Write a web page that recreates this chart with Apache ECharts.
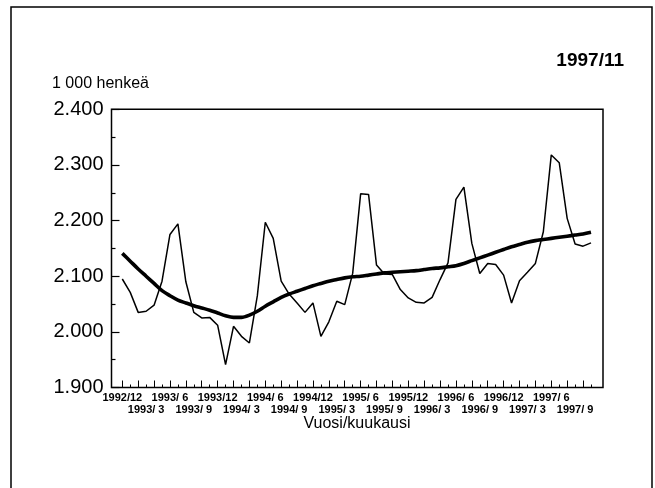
<!DOCTYPE html>
<html>
<head>
<meta charset="utf-8">
<title>Työlliset 1992/12 - 1997/11</title>
<script src="https://cdn.jsdelivr.net/npm/echarts@6/dist/echarts.min.js"></script>
<style>
  html, body { margin: 0; padding: 0; background: #fff; }
  #main { width: 655px; height: 488px; }
</style>
</head>
<body>
<div id="main"></div>
<script>
// kuukaudet 1992/12 - 1997/11
var kuukaudet = [
  '1992/12',
  '1993/ 1', '1993/ 2', '1993/ 3', '1993/ 4', '1993/ 5', '1993/ 6', '1993/ 7', '1993/ 8', '1993/ 9', '1993/10', '1993/11', '1993/12',
  '1994/ 1', '1994/ 2', '1994/ 3', '1994/ 4', '1994/ 5', '1994/ 6', '1994/ 7', '1994/ 8', '1994/ 9', '1994/10', '1994/11', '1994/12',
  '1995/ 1', '1995/ 2', '1995/ 3', '1995/ 4', '1995/ 5', '1995/ 6', '1995/ 7', '1995/ 8', '1995/ 9', '1995/10', '1995/11', '1995/12',
  '1996/ 1', '1996/ 2', '1996/ 3', '1996/ 4', '1996/ 5', '1996/ 6', '1996/ 7', '1996/ 8', '1996/ 9', '1996/10', '1996/11', '1996/12',
  '1997/ 1', '1997/ 2', '1997/ 3', '1997/ 4', '1997/ 5', '1997/ 6', '1997/ 7', '1997/ 8', '1997/ 9', '1997/10', '1997/11'
];

// 1 000 henkeä, alkuperäinen sarja
var alkuperainen = [
  2095,
  2071, 2035, 2037, 2048, 2091, 2175, 2194, 2090, 2035, 2025, 2026, 2012,
  1941, 2010, 1992, 1980, 2065, 2197, 2168, 2091, 2068, 2052, 2035, 2052,
  1992, 2018, 2055, 2049, 2105, 2248, 2247, 2120, 2104, 2103, 2076, 2061,
  2053, 2052, 2062, 2094, 2124, 2238, 2260, 2159, 2105, 2123, 2121, 2102,
  2052, 2092, 2107, 2123, 2180, 2318, 2304, 2204, 2158, 2154, 2160
];

// trendi
var trendi = [
  2141,
  2127, 2113, 2100, 2087, 2074, 2065, 2057, 2052, 2047, 2043, 2039, 2034,
  2029, 2026, 2026, 2030, 2037, 2046, 2054, 2062, 2068, 2073, 2078, 2083,
  2087, 2091, 2094, 2097, 2099, 2100, 2102, 2104, 2106, 2107, 2108, 2109,
  2110, 2112, 2114, 2115, 2117, 2119, 2123, 2128, 2133, 2138, 2143, 2148,
  2153, 2157, 2161, 2164, 2166, 2168, 2170, 2172, 2174, 2176, 2179
];

var yMin = 1900, yMax = 2400, yStep = 100;

var fontti = '"Liberation Sans", Arial, Helvetica, sans-serif';
var myChart = echarts.init(document.getElementById('main'));

// yhteinen x-akselin pohja, rivit ja väliviivat eri akseleilla
function xAkseli(tick, label) {
  return {
    type: 'category',
    data: kuukaudet,
    position: 'bottom',
    boundaryGap: false,
    axisLine: { show: false },
    axisTick: tick,
    axisLabel: label,
    splitLine: { show: false }
  };
}
var labelTyyli = {
  color: '#000', fontFamily: fontti, fontSize: 11, fontWeight: 'bold',
  showMinLabel: true, hideOverlap: false
};

var option = {
  backgroundColor: '#fff',
  animation: false,
  textStyle: { fontFamily: fontti, color: '#000' },
  grid: { left: 122.3, right: 64, top: 109.3, bottom: 100.5 },
  xAxis: [
    xAkseli(
      { show: true, interval: 0, inside: true, length: 3, lineStyle: { color: '#000', width: 1 } },
      Object.assign({ interval: 5, margin: 5 }, labelTyyli)
    ),
    xAkseli(
      { show: true, interval: 1, inside: true, length: 7, lineStyle: { color: '#000', width: 1 } },
      Object.assign({
        interval: function (i) { return i % 6 === 3; },
        margin: 17
      }, labelTyyli)
    )
  ],
  yAxis: {
    type: 'value',
    min: yMin, max: yMax, interval: yStep,
    offset: 10.8,
    axisLine: { show: false },
    axisTick: { show: true, inside: true, length: 8, lineStyle: { color: '#000', width: 1.2 } },
    minorTick: { show: true, splitNumber: 2, length: 4, lineStyle: { color: '#000', width: 1.2 } },
    splitLine: { show: false },
    minorSplitLine: { show: false },
    axisLabel: {
      color: '#000', fontFamily: fontti, fontSize: 20, margin: 8,
      formatter: function (v) { return (v / 1000).toFixed(3); }
    }
  },
  series: [{
    name: 'alkuperäinen',
    type: 'line',
    data: alkuperainen,
    showSymbol: false,
    lineStyle: { color: '#000', width: 1.5 },
    z: 3
  }, {
    name: 'trendi',
    type: 'line',
    data: trendi,
    showSymbol: false,
    smooth: 0.3,
    lineStyle: { color: '#000', width: 3.6 },
    z: 4
  }],
  graphic: [
    { type: 'rect', shape: { x: 11, y: 7, width: 641, height: 495 }, style: { fill: 'none', stroke: '#000', lineWidth: 1.5 }, silent: true },
    { type: 'rect', shape: { x: 111.5, y: 109.3, width: 491.5, height: 278.2 }, style: { fill: 'none', stroke: '#000', lineWidth: 1.5 }, silent: true, z: 10 },
    { type: 'text', x: 624, y: 61, style: { text: '1997/11', font: 'bold 19px ' + fontti, fill: '#000', textAlign: 'right', textVerticalAlign: 'middle' } },
    { type: 'text', x: 52, y: 84, style: { text: '1 000 henkeä', font: '16px ' + fontti, fill: '#000', textAlign: 'left', textVerticalAlign: 'middle' } },
    { type: 'text', x: 357, y: 424, style: { text: 'Vuosi/kuukausi', font: '16px ' + fontti, fill: '#000', textAlign: 'center', textVerticalAlign: 'middle' } }
  ]
};

myChart.setOption(option);
</script>
</body>
</html>
